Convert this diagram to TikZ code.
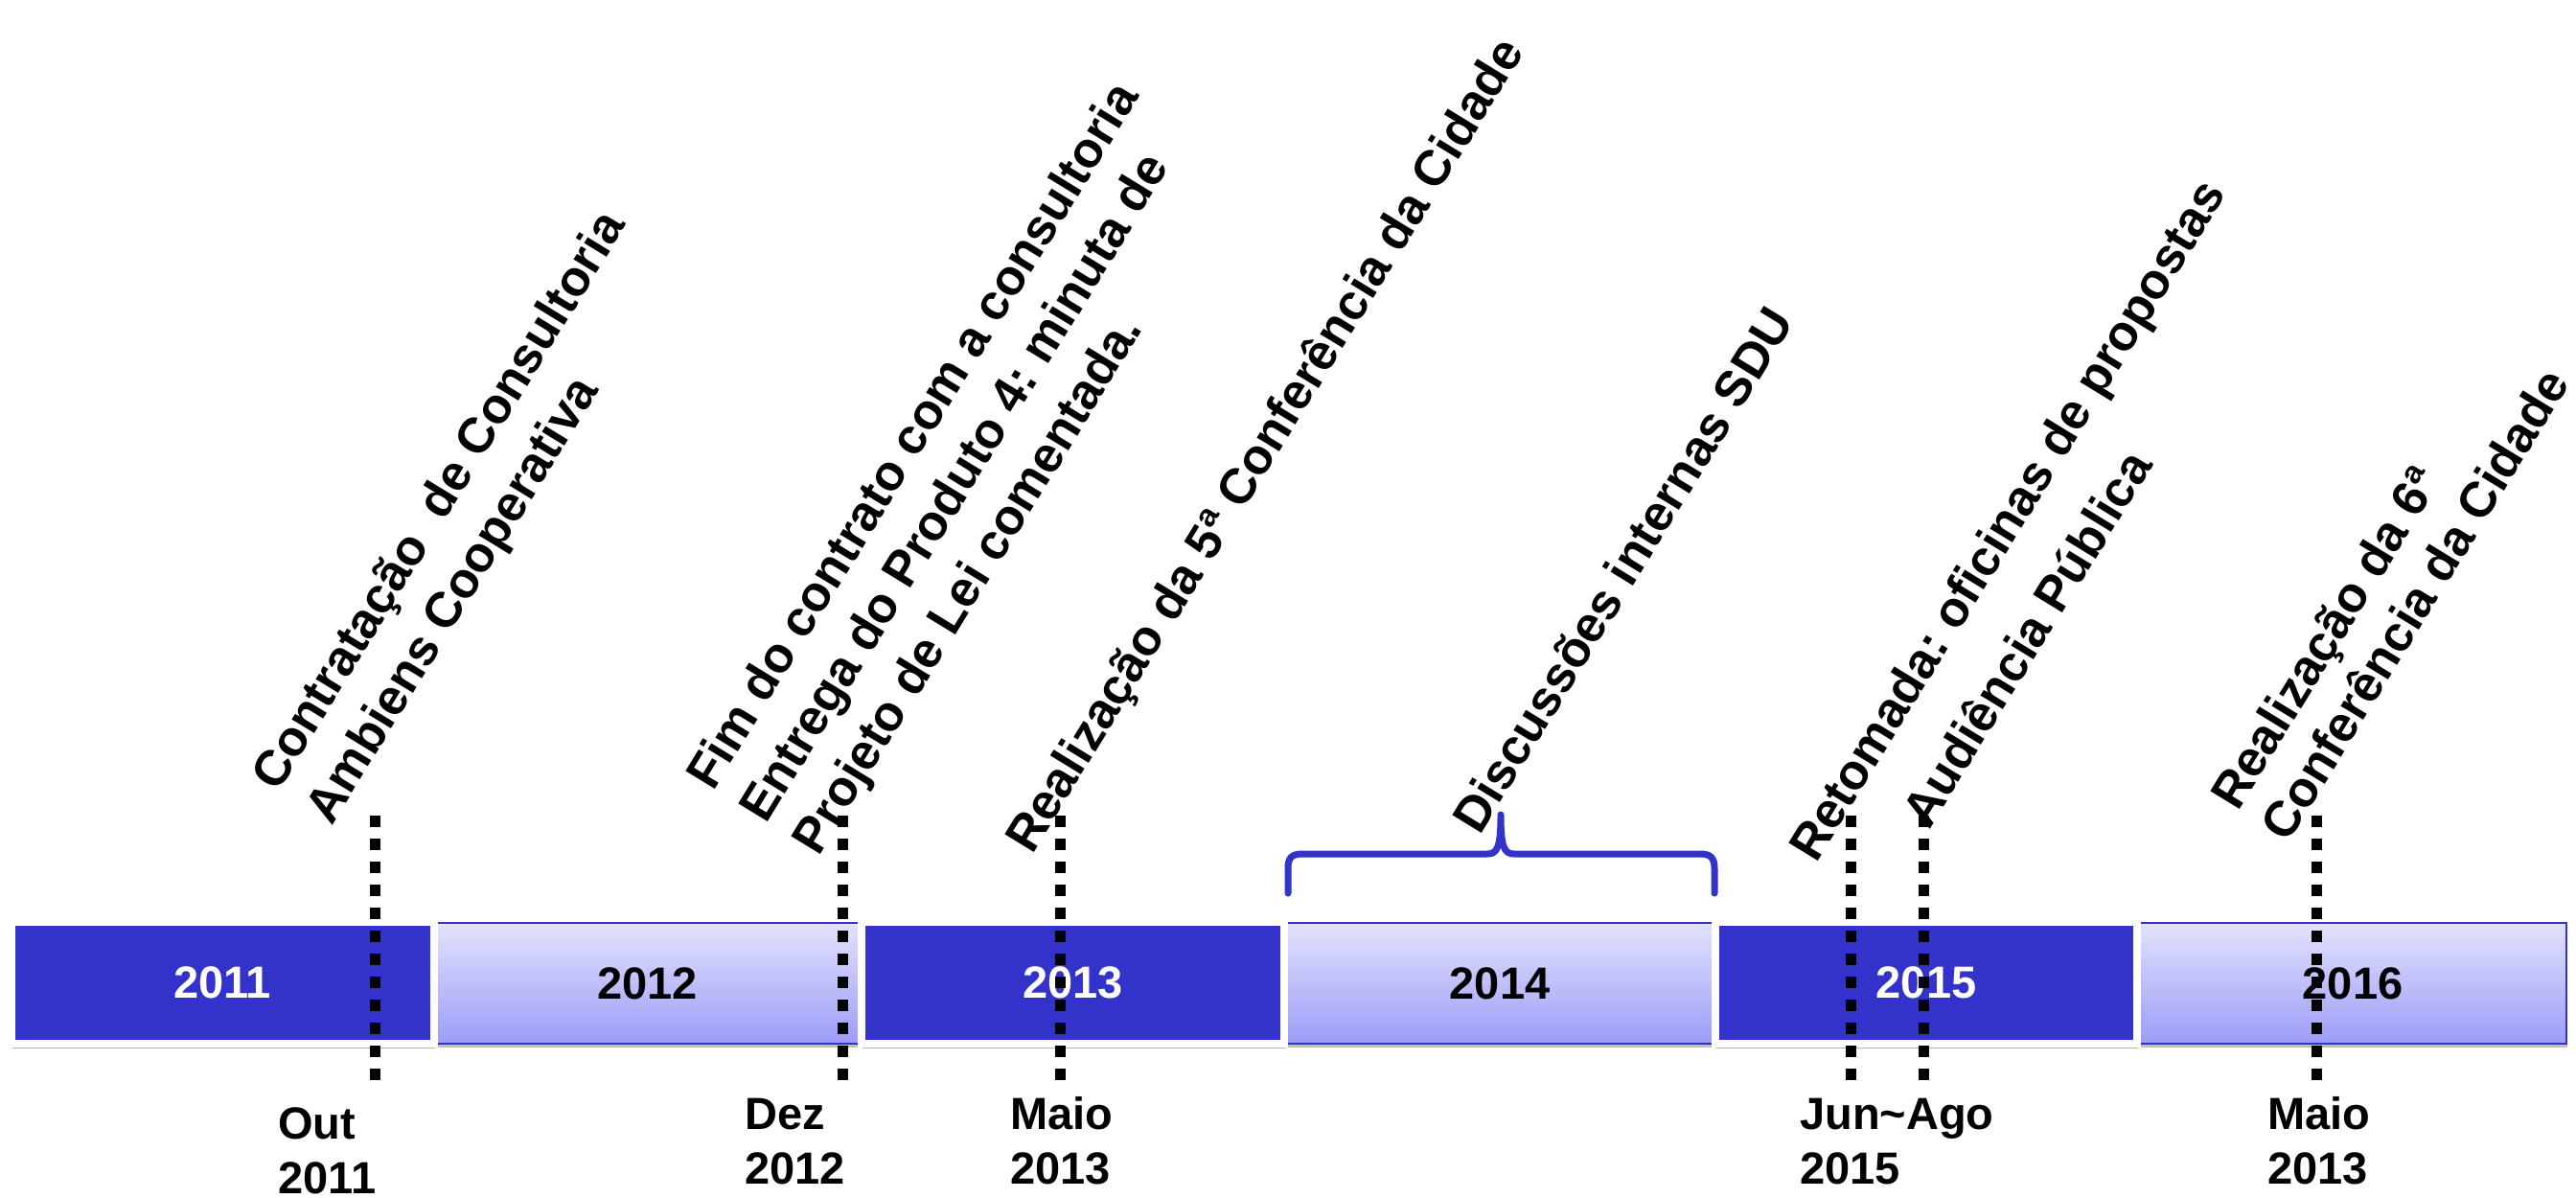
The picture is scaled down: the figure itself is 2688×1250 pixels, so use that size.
\documentclass[tikz,border=0pt]{standalone}
\usepackage{fontspec}
\setmainfont{Liberation Sans}
\usetikzlibrary{shadows,calc}
\definecolor{dkblue}{RGB}{51,51,204}
\definecolor{ltop}{RGB}{226,226,253}
\definecolor{lbot}{RGB}{156,156,248}
\frenchspacing
\newcommand\yrfont{\fontsize{47}{56}\selectfont\bfseries}
\newcommand\evfont{\fontsize{52}{65}\selectfont\bfseries\frenchspacing}
\newcommand\dtfont{\fontsize{47}{57}\selectfont\bfseries}
\tikzset{
  yrdark/.style={draw=white, line width=8pt, fill=dkblue, text=white, minimum height=127pt, inner sep=0pt, font=\yrfont,
    drop shadow={shadow xshift=1pt, shadow yshift=-5pt, opacity=0.3, fill=black}},
  yrlight/.style={draw=dkblue, line width=2pt, top color=ltop, bottom color=lbot, minimum height=126pt, inner sep=0pt, font=\yrfont, text=black,
    drop shadow={shadow xshift=1pt, shadow yshift=-4pt, opacity=0.25, fill=black}},
  event/.style={rotate=58.5, anchor=base west, inner sep=0pt, font=\evfont},
  datelbl/.style={anchor=base west, inner sep=0pt, font=\dtfont},
  tick/.style={line width=11pt, dash pattern=on 12pt off 12pt},
  bracestyle/.style={draw=dkblue, line width=7pt, line join=round, line cap=round}
}
\begin{document}
\begin{tikzpicture}[x=1pt,y=1pt]
\fill[white] (0,0) rectangle (2688,-1250);
\useasboundingbox (0,0) rectangle (2688,-1250);

% light year boxes
\node[yrlight, minimum width=443pt] (y2012) at (675.5,-1026) {2012};
\node[yrlight, minimum width=446pt] (y2014) at (1565,-1026) {2014};
\node[yrlight, minimum width=446pt] (y2016) at (2455,-1026) {2016};
% dark year boxes
\node[yrdark, minimum width=441pt] (y2011) at (232,-1025.5) {2011};
\node[yrdark, minimum width=441pt] (y2013) at (1119.5,-1025.5) {2013};
\node[yrdark, minimum width=440pt] (y2015) at (2010,-1025.5) {2015};

% brace over 2014
\draw[bracestyle] (1344,-932) -- (1344,-906) .. controls (1344,-895) and (1348,-891) .. (1359,-891)
  -- (1552,-891) .. controls (1562,-891) and (1566,-885) .. (1566,-850)
  .. controls (1566,-885) and (1570,-891) .. (1580,-891)
  -- (1774,-891) .. controls (1785,-891) and (1789,-895) .. (1789,-906) -- (1789,-932);

% rotated event texts
\coordinate (s1) at (290,-828);
\node[event] (e1a) at (s1) {Contratação\ \ de Consultoria};
\node[event] (e1b) at ($(s1)+(-31.5:66)$) {Ambiens Cooperativa};
\coordinate (s2) at (744,-827);
\node[event] (e2a) at (s2) {Fim do contrato com a consultoria};
\node[event] (e2b) at ($(s2)+(-31.5:65)$) {Entrega do Produto 4: minuta de};
\node[event] (e2c) at ($(s2)+(-31.5:130)$) {Projeto de Lei comentada.};
\node[event] (e3) at (1077,-893) {Realização da 5ª Conferência da Cidade};
\node[event] (e4) at (1544,-873) {Discussões internas SDU};
\node[event] (e5) at (1895,-902) {Retomada: oficinas de propostas};
\node[event] (e6) at (2013,-867) {Audiência Pública};
\coordinate (s7) at (2335,-848);
\node[event] (e7a) at (s7) {Realização da 6ª};
\node[event] (e7b) at ($(s7)+(-31.5:62)$) {Conferência da Cidade};

% dotted markers
\foreach \n/\xx in {1/391, 2/879, 3/1106, 4/1931, 5/2007, 6/2417}{
  \coordinate (d\n t) at (\xx,-851);
  \coordinate (d\n b) at (\xx,-1127);
  \draw[tick] (d\n t) -- (d\n b);
}

% date labels
\node[datelbl] (l1a) at (290,-1188) {Out};
\node[datelbl] (l1b) at (290,-1245) {2011};
\node[datelbl] (l2a) at (777,-1178) {Dez};
\node[datelbl] (l2b) at (777,-1235) {2012};
\node[datelbl] (l3a) at (1054,-1178) {Maio};
\node[datelbl] (l3b) at (1054,-1235) {2013};
\node[datelbl] (l4a) at (1878,-1178) {Jun\textasciitilde Ago};
\node[datelbl] (l4b) at (1878,-1235) {2015};
\node[datelbl] (l5a) at (2366,-1178) {Maio};
\node[datelbl] (l5b) at (2366,-1235) {2013};
\end{tikzpicture}
\end{document}
